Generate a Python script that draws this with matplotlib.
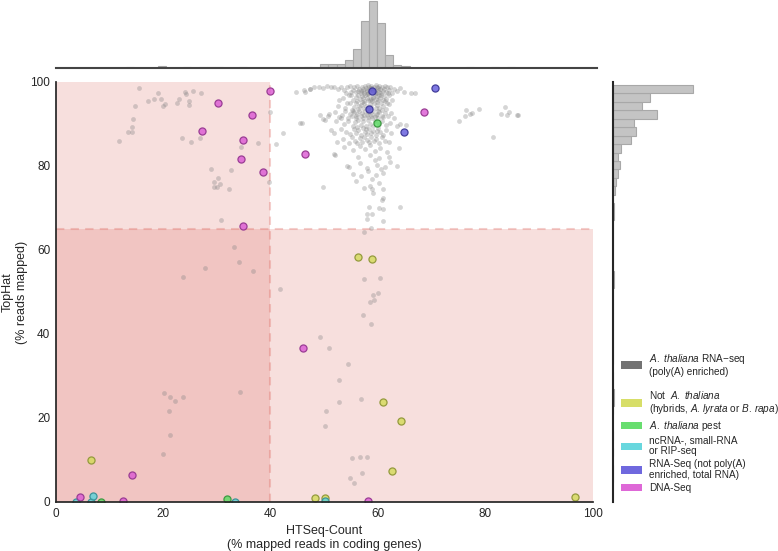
import colorsys
import numpy as np
import matplotlib
matplotlib.use("Agg")
import matplotlib.pyplot as plt
from matplotlib.patches import Patch
from matplotlib.lines import Line2D

plt.rcParams['font.family'] = ['Liberation Sans', 'DejaVu Sans']
plt.rcParams['mathtext.fontset'] = 'custom'
plt.rcParams['mathtext.rm'] = 'Liberation Sans'
plt.rcParams['mathtext.it'] = 'Liberation Sans:italic'
plt.rcParams['mathtext.bf'] = 'Liberation Sans:bold'

# ---------------- data ----------------
x_ticks = [0, 20, 40, 60, 80, 100]
y_ticks = [0, 20, 40, 60, 80, 100]
x_threshold = 40
y_threshold = 65

# A. thaliana RNA-seq (poly(A) enriched) samples: (HTSeq %, TopHat %)
grey_points = [
    # top streak y ~ 97-99
    (44.8,97.7),(46.3,98.2),(47.4,98.4),(48.2,98.7),(49.0,98.9),(49.8,98.6),(50.5,99.0),(51.2,98.8),
    (51.9,98.9),(52.6,98.3),(53.2,98.9),(53.8,98.1),(54.3,98.7),(54.9,99.0),(55.3,98.2),(55.6,98.8),
    (56.0,97.6),(56.2,99.1),(56.5,98.4),(56.8,97.9),(57.0,98.9),(57.2,98.3),(57.5,97.5),(57.6,99.0),
    (57.8,98.6),(58.0,98.0),(58.1,97.4),(58.3,98.8),(58.5,98.3),(58.6,97.7),(58.8,99.1),(59.0,98.5),
    (59.1,97.9),(59.3,98.9),(59.5,98.2),(59.6,97.5),(59.8,98.7),(60.0,98.0),(60.2,99.0),(60.3,97.6),
    (60.5,98.4),(60.7,98.9),(60.9,97.8),(61.1,98.3),(61.3,99.0),(61.5,97.6),(61.7,98.8),(62.0,98.1),
    (62.3,98.7),(62.6,97.5),(63.0,98.3),(63.6,97.9),(64.2,98.6),(64.8,97.7),(66.1,97.5),(67.0,97.3),
    (55.0,97.6),(54.0,97.5),(56.9,97.4),(58.9,98.0),(59.7,99.2),(58.2,99.2),(57.3,97.8),(60.6,97.4),
    (61.9,97.4),(56.3,97.8),(57.9,97.9),(59.4,97.6),(60.1,98.6),(58.7,98.5),(46.5,97.7),(47.4,98.3),
    # y ~ 95-97
    (53.5,96.1),(54.6,96.8),(55.4,95.8),(55.9,96.5),(56.4,97.0),(56.7,95.9),(57.1,96.6),(57.4,95.5),
    (57.7,96.9),(58.0,96.2),(58.2,95.7),(58.4,96.8),(58.7,96.0),(58.9,95.4),(59.2,96.5),(59.4,97.1),
    (59.6,95.9),(59.9,96.7),(60.1,95.6),(60.4,96.3),(60.6,97.0),(60.9,95.8),(61.2,96.6),(61.6,96.0),
    (62.1,96.9),(62.7,95.7),(52.8,95.6),(56.1,95.5),(57.9,97.1),(59.1,96.1),(60.3,96.9),(58.6,95.6),
    (61.4,95.4),(55.1,96.9),(57.3,96.2),
    # y ~ 93-95
    (52.5,94.4),(53.9,93.8),(54.8,94.9),(55.5,94.1),(56.0,95.0),(56.3,93.6),(56.8,94.6),(57.2,93.9),
    (57.5,95.1),(57.8,94.3),(58.1,93.5),(58.5,94.8),(58.8,94.0),(59.3,94.9),(59.6,93.7),(59.9,94.5),
    (60.3,93.9),(60.6,95.0),(61.0,94.2),(61.5,93.6),(62.0,94.7),(55.2,93.4),(57.0,95.2),(58.3,93.8),
    (59.8,95.2),(60.8,93.4),(56.5,94.2),(54.3,95.1),(61.8,95.0),
    # y ~ 91-93
    (49.3,92.1),(49.8,91.1),(50.2,91.0),(51.0,92.4),(52.0,92.8),(52.7,91.6),(53.4,92.2),(53.9,93.0),
    (54.4,91.5),(54.8,92.5),(55.2,91.8),(55.6,92.9),(55.9,91.4),(56.2,92.3),(56.5,93.1),(56.8,91.9),
    (57.1,92.6),(57.3,91.5),(57.6,93.0),(57.9,92.1),(58.2,91.6),(58.4,92.8),(58.7,91.9),(59.0,92.5),
    (59.2,93.2),(59.5,91.7),(59.8,92.3),(60.1,91.4),(60.3,92.9),(60.7,92.0),(61.0,91.6),(61.4,92.6),
    (61.9,91.9),(62.5,92.7),(63.1,91.5),(56.0,92.0),(57.4,92.2),(58.9,91.5),(60.0,93.0),(55.4,93.1),
    (58.1,92.9),(59.6,92.1),(53.1,91.4),(50.7,91.8),
    # y ~ 89-91
    (52.3,90.6),(53.7,89.9),(54.5,90.8),(55.3,89.6),(55.8,90.5),(56.4,91.0),(56.9,89.8),(57.3,90.6),
    (57.8,89.5),(58.2,90.9),(58.6,90.1),(59.1,89.6),(59.4,90.7),(60.3,89.9),(60.8,90.6),(61.5,89.7),
    (62.3,90.3),(63.5,89.5),(64.2,90.0),(65.3,89.8),(56.1,89.4),(45.5,90.2),(45.9,90.2),
    # y ~ 87-89
    (51.3,88.6),(51.9,87.8),(53.2,88.9),(54.1,88.2),(54.9,87.6),(55.5,88.8),(56.0,87.9),(56.4,88.5),
    (56.9,87.4),(57.2,89.0),(57.6,88.1),(58.0,87.6),(58.3,88.7),(58.7,87.9),(59.2,88.4),(59.6,87.5),
    (60.0,89.1),(60.4,88.0),(60.9,87.5),(61.6,88.6),(62.4,87.8),(57.8,88.9),(59.9,88.3),
    # y ~ 85-87
    (52.4,85.8),(53.6,86.5),(54.6,85.5),(55.2,86.9),(55.7,86.0),(56.2,85.4),(56.7,86.6),(57.1,85.8),
    (57.5,87.0),(57.9,86.2),(58.4,85.6),(58.8,86.8),(59.3,85.9),(59.7,86.4),(60.2,85.5),(60.7,86.9),
    (61.3,86.0),(62.0,85.7),
    # y ~ 79-85
    (53.8,84.6),(55.4,83.9),(56.6,84.8),(57.7,84.0),(58.5,85.1),(59.4,83.6),(60.5,84.4),(63.9,84.2),
    (61.7,83.4),(51.8,82.9),(52.1,82.6),(56.3,82.1),(58.6,82.7),(62.0,82.2),(60.2,82.0),(59.5,81.4),
    (54.3,80.0),(54.6,79.7),(56.7,80.8),(57.9,79.5),(59.8,80.3),(61.3,79.7),(62.2,81.0),(63.5,79.9),
    (60.6,79.4),
    # tail y ~ 64-79
    (55.4,78.1),(56.8,77.6),(58.2,78.8),(59.6,77.9),(61.0,78.3),(55.9,76.4),(58.9,76.8),(60.2,75.9),
    (49.8,74.9),(57.4,74.8),(58.5,75.2),(58.9,74.5),(59.1,73.5),(61.0,74.6),(61.0,72.3),(60.8,71.9),
    (58.3,70.2),(60.3,69.9),(61.0,69.7),(64.2,70.2),(57.9,68.6),(58.0,67.3),(58.9,68.6),(61.0,67.0),
    (58.7,65.2),(57.4,64.4),
    # left block (x < 40)
    (15.5,98.5),(19.1,97.5),(18.4,96.0),(17.2,95.5),(19.6,96.0),(20.4,94.8),(19.9,94.4),(14.8,94.3),
    (22.6,95.1),(23.0,95.9),(24.1,97.7),(24.2,97.1),(25.5,97.8),(27.0,97.3),(24.9,95.5),(24.9,94.5),
    (14.4,91.2),(14.2,89.3),(14.3,88.2),(13.4,88.2),(11.7,86.0),(23.5,86.7),(25.2,85.6),(26.9,86.6),
    (34.6,84.6),(37.7,85.5),(40.0,92.9),(29.0,79.3),(32.7,79.0),(30.3,77.2),(29.5,76.3),(30.7,75.8),
    (29.4,75.0),(30.1,75.0),(32.3,74.5),(39.7,76.2),(30.8,67.2),(42.4,87.8),(41.0,85.2),
    # right block (x > 70)
    (76.5,93.3),(75.1,90.7),(76.3,92.0),(77.2,92.4),(77.6,92.6),(78.9,93.5),(81.4,86.8),(82.9,92.5),
    (83.7,94.0),(84.0,92.2),(84.4,92.8),(85.9,92.1),(86.1,92.2),
    # low TopHat
    (33.2,60.7),(34.2,57.1),(27.9,55.6),(36.7,55.1),(23.7,53.6),(41.7,50.6),(20.2,26.0),(21.2,24.9),
    (22.3,24.0),(23.8,25.1),(21.1,21.6),(21.2,15.9),(20.0,11.5),(34.4,26.3),(49.2,39.3),(51.0,36.7),
    (52.7,29.1),(52.7,23.8),(50.4,21.6),(50.2,18.2),(57.5,53.0),(60.5,53.4),(59.1,49.4),(60.0,49.7),
    (58.6,47.7),(59.3,48.0),(57.2,44.6),(58.8,42.5),(54.5,32.8),(56.9,24.5),(55.2,10.5),(56.7,10.7),
    (58.0,10.6),(57.1,6.8),(54.9,5.6),(55.6,4.5),
]

not_thaliana_x = [56.3, 58.9, 60.9, 64.4, 62.6, 48.3, 50.2, 96.8, 6.6]
not_thaliana_y = [58.3, 57.8, 23.7, 19.4, 7.4, 0.9, 1.0, 1.1, 9.9]
pest_x = [59.9, 31.9, 8.4]
pest_y = [90.2, 0.8, 0.0]
ncrna_x = [3.7, 6.6, 6.9, 33.4, 50.1]
ncrna_y = [0.0, 0.0, 1.5, 0.0, 0.2]
total_rna_x = [58.9, 58.4, 64.9, 70.7]
total_rna_y = [97.9, 93.5, 88.0, 98.5]
dna_x = [40.0, 30.2, 36.5, 27.3, 34.9, 34.6, 38.7, 34.8, 46.5, 68.6, 46.0, 4.5, 14.2, 12.5, 58.2]
dna_y = [97.9, 94.9, 92.2, 88.3, 86.2, 81.6, 78.6, 65.7, 82.9, 92.8, 36.6, 1.1, 6.4, 0.2, 0.2]

# marginal histograms (HTSeq bins, TopHat bins)
top_hist_start = 0.98
top_hist_width = 1.51
top_hist_counts = [0, 0, 0, 0, 0, 0, 0, 0, 4, 0, 0, 0, 5, 0, 0, 4, 0, 3, 3, 3,
                   0, 0, 3, 0, 0, 0, 0, 0, 0, 0, 4, 0, 13, 13, 13, 24, 57, 141, 201, 135,
                   39, 9, 6, 0, 0, 0, 0, 0, 0, 0, 3, 0, 0, 3, 0, 3, 0, 0, 0, 0,
                   0, 0, 0, 0, 0]
right_hist_start = 0.8
right_hist_width = 2.01
right_hist_counts = [0, 0, 2, 1, 0, 2, 0, 1, 0, 0, 1, 3, 3, 2, 1, 0, 1, 1, 1, 1,
                     1, 1, 1, 2, 2, 3, 3, 2, 2, 1, 1, 2, 2, 4, 3, 2, 6, 9, 15, 21,
                     15, 24, 54, 69, 63, 132, 87, 111, 240]

legend_labels = [
    "$\\mathit{A.\\ thaliana}$ RNA\u2212seq\n(poly(A) enriched)",
    "Not  $\\mathit{A.\\ thaliana}$\n(hybrids, $\\mathit{A.\\,lyrata}$ or $\\mathit{B.\\,rapa}$)",
    "$\\mathit{A.\\ thaliana}$ pest",
    "ncRNA-, small-RNA\nor RIP-seq",
    "RNA-Seq (not poly(A)\nenriched, total RNA)",
    "DNA-Seq",
]

# ---------------- style ----------------
def hls(i):
    return colorsys.hls_to_rgb(i / 6 + 0.01, 0.6, 0.65)

red, yellow, green, cyan, blue, magenta = [hls(i) for i in range(6)]
grey = (0.5, 0.5, 0.5)

W, H = 778, 551
fig = plt.figure(figsize=(W / 100, H / 100), dpi=100)

ax_l, ax_r, ax_t, ax_b = 55.7, 592.5, 82, 502
ax = fig.add_axes([ax_l / W, 1 - ax_b / H, (ax_r - ax_l) / W, (ax_b - ax_t) / H])
ax_top = fig.add_axes([ax_l / W, 1 - 68 / H, (597 - ax_l) / W, 68 / H])
rh_l, rh_w = 612.5, 160
ax_right = fig.add_axes([rh_l / W, 1 - ax_b / H, rh_w / W, (ax_b - ax_t) / H])

spine_col = '#262626'

# shaded regions
ax.fill_between([0, x_threshold], 0, 100, color=red, alpha=0.2, lw=0, zorder=0)
ax.fill_between([0, 100], 0, y_threshold, color=red, alpha=0.2, lw=0, zorder=0)
ax.plot([x_threshold, x_threshold], [0, 100], ls=(0, (4, 3)), color=red, alpha=0.3, lw=1.5, zorder=1)
ax.plot([0, 100], [y_threshold, y_threshold], ls=(0, (4, 3)), color=red, alpha=0.3, lw=1.5, zorder=1)

gx = [p[0] for p in grey_points]
gy = [p[1] for p in grey_points]
ax.scatter(gx, gy, s=12, color=grey, alpha=0.33, lw=0, zorder=2)

def dark(c, f=0.7):
    return tuple(v * f for v in c)

for xs, ys, c in [(not_thaliana_x, not_thaliana_y, yellow), (pest_x, pest_y, green),
                  (ncrna_x, ncrna_y, cyan), (total_rna_x, total_rna_y, blue),
                  (dna_x, dna_y, magenta)]:
    ax.scatter(xs, ys, s=26, facecolor=c + (0.8,), edgecolor=dark(c), lw=0.9, zorder=3)

ax.set_xlim(0, 100)
ax.set_ylim(0, 100)
ax.set_xticks(x_ticks)
ax.set_yticks(y_ticks)
ax.tick_params(length=0, labelsize=8.5, colors='#262626', pad=4)
for s in ['top', 'right']:
    ax.spines[s].set_visible(False)
for s in ['left', 'bottom']:
    ax.spines[s].set_color(spine_col)
    ax.spines[s].set_linewidth(1.25)
    ax.spines[s].set_zorder(5)
ax.set_xlabel("HTSeq-Count\n(% mapped reads in coding genes)", fontsize=9, color='#262626', labelpad=4)
ax.set_ylabel("TopHat\n(% reads mapped)", fontsize=9, color='#262626')
ax.yaxis.set_label_coords((28 - ax_l) / (ax_r - ax_l), 0.5)

# top marginal
edges_top = top_hist_start + top_hist_width * np.arange(len(top_hist_counts))
nz = [i for i, c in enumerate(top_hist_counts) if c > 0]
ax_top.bar(edges_top[nz], [top_hist_counts[i] for i in nz], width=top_hist_width, align='edge',
           color='#c4c4c4', edgecolor='#a8a8a8', lw=0.8)
ax_top.set_xlim(0, 100 * (597 - ax_l) / (ax_r - ax_l))
ax_top.set_ylim(0, max(top_hist_counts) * 68 / 67)
ax_top.set_xticks([]); ax_top.set_yticks([])
for s in ['top', 'right', 'left']:
    ax_top.spines[s].set_visible(False)
ax_top.spines['bottom'].set_color('#444444')
ax_top.spines['bottom'].set_linewidth(1.5)
ax_top.spines['bottom'].set_zorder(5)

# right marginal
edges_right = right_hist_start + right_hist_width * np.arange(len(right_hist_counts))
nz = [i for i, c in enumerate(right_hist_counts) if c > 0]
ax_right.barh(edges_right[nz], [right_hist_counts[i] for i in nz], height=right_hist_width, align='edge',
              color='#c4c4c4', edgecolor='#a8a8a8', lw=0.8)
ax_right.set_ylim(0, 100)
ax_right.set_xlim(0, max(right_hist_counts) * rh_w / 80)
ax_right.set_xticks([]); ax_right.set_yticks([])
for s in ['top', 'right', 'bottom', 'left']:
    ax_right.spines[s].set_visible(False)
# vertical axis line of the right marginal, drawn on top of everything
fig.add_artist(Line2D([rh_l / W, rh_l / W], [1 - ax_b / H, 1 - ax_t / H],
                      transform=fig.transFigure, color=spine_col, lw=1.5, zorder=10))

# legends
handles = [Patch(facecolor=(0.45, 0.45, 0.45), edgecolor='none')] + \
          [Patch(facecolor=c, edgecolor='none', alpha=0.9) for c in [yellow, green, cyan, blue, magenta]]
leg_kw = dict(frameon=False, fontsize=7.2, handlelength=2.1, handleheight=0.8,
              handletextpad=0.7, borderpad=0, borderaxespad=0, labelspacing=0.28,
              loc='upper left')
leg1 = fig.legend(handles[:1], legend_labels[:1], bbox_to_anchor=(621 / W, 1 - 352 / H), **leg_kw)
leg2 = fig.legend(handles[1:], legend_labels[1:], bbox_to_anchor=(621 / W, 1 - 389 / H), **leg_kw)
for leg in (leg1, leg2):
    for t in leg.get_texts():
        t.set_color('#262626')
        t.set_linespacing(1.1)

fig.savefig("out.png", dpi=100)
